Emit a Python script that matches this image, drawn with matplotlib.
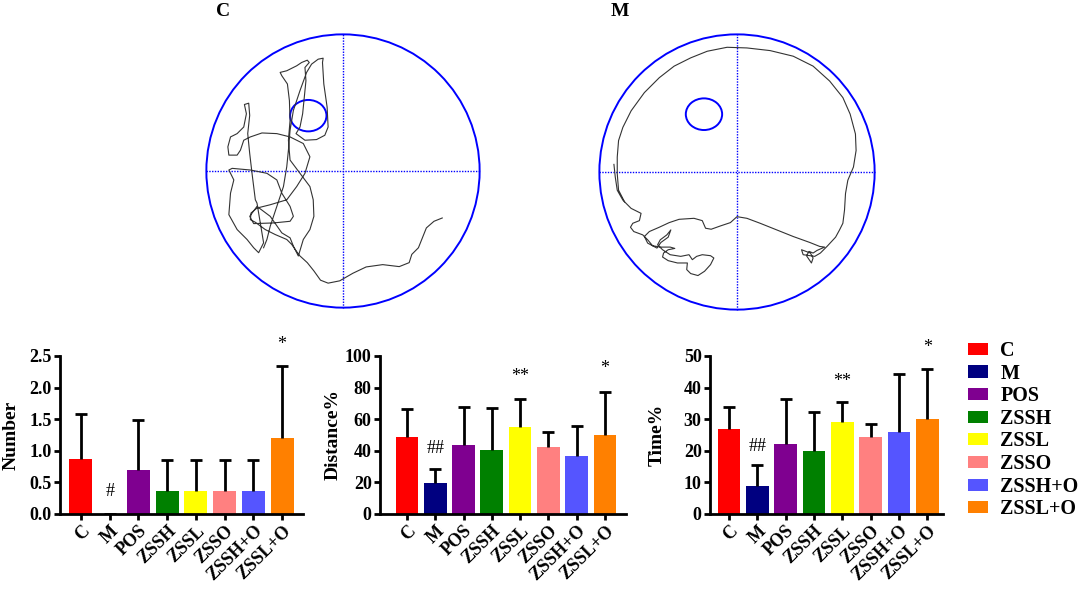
import numpy as np
import matplotlib
matplotlib.use("Agg")
import matplotlib.pyplot as plt
from matplotlib.patches import Circle, Ellipse, Patch

plt.rcParams['font.family'] = ['Liberation Serif', 'DejaVu Serif']

# ---------------- data ----------------
groups = ["C", "M", "POS", "ZSSH", "ZSSL", "ZSSO", "ZSSH+O", "ZSSL+O"]
colors = ["#FF0000", "#000080", "#7F0090", "#008000", "#FFFF00", "#FF8080", "#5555FF", "#FF8000"]

number_mean = [0.87, 0.0, 0.70, 0.37, 0.37, 0.37, 0.37, 1.20]
number_top = [1.59, 0.0, 1.49, 0.85, 0.85, 0.85, 0.85, 2.34]
number_marks = [("#", 1, 0.35), ("*", 7, 2.68)]

distance_mean = [48.5, 19.5, 43.5, 40.5, 55.0, 42.5, 37.0, 50.0]
distance_top = [66.5, 28.5, 68.0, 67.0, 72.5, 52.0, 55.5, 77.0]
distance_marks = [("##", 1, 41.5), ("**", 4, 87.0), ("*", 7, 92.0)]

time_mean = [27.0, 9.0, 22.0, 20.0, 29.0, 24.5, 26.0, 30.0]
time_top = [34.0, 15.5, 36.5, 32.3, 35.5, 28.5, 44.2, 46.0]
time_marks = [("##", 1, 21.5), ("**", 4, 42.0), ("*", 7, 52.8)]

# swim traces (image coordinates of the original track drawings)
trace_c_x = [760,735,712,700,688,668,660,630,580,530,490,450,415,392,372,352,328,305,290,255,225,195,180,182,200,240,290,320,345,360,340,300,260,215,180,160,150,140,115,112,120,140,160,168,162,175,178,172,178,185,195,200,205,215,220,205,190,170,140,115,120,130,115,125,180,230,260,275,300,310,300,250,190,178,200,240,275,300,310,325,340,360,372,370,360,330,300,295,300,298,292,275,270,290,320,335,352,358,345,348,342,338,330,318,345,380,405,415,412,402,398,400,385,365,350,330,310,300,295,290,280,260,240,230,220]
trace_c_y = [655,665,685,715,745,765,790,802,796,803,822,845,852,843,815,790,768,735,720,705,690,668,660,640,625,615,600,560,520,470,430,410,400,398,410,420,450,465,465,440,410,400,380,340,312,308,345,400,460,520,600,610,640,700,730,760,745,720,690,645,580,540,510,505,510,520,540,580,620,650,665,670,672,650,620,650,700,715,740,770,720,690,650,600,560,520,480,420,360,300,250,225,215,210,195,185,178,185,200,240,300,340,380,400,420,418,405,380,320,250,185,172,175,190,215,270,330,390,450,500,560,620,680,720,745]

trace_m_x = [98,102,108,125,150,180,175,155,148,158,185,200,215,240,268,282,262,248,245,262,290,320,318,330,352,372,390,400,390,365,348,335,325,300,268,245,230,238,258,270,262,240,228,200,190,205,235,265,295,340,365,375,392,420,450,470,500,540,590,640,690,720,735,712,700,688,680,695,700,692,665,670,705,722,742,768,780,790,795,798,805,822,830,828,812,790,750,700,640,570,500,440,380,330,280,235,190,150,125,112,108,108,112,130]
trace_m_y = [492,530,570,600,625,640,662,670,682,695,705,720,738,742,742,746,750,760,772,783,790,790,810,822,828,815,795,775,768,765,770,780,765,770,765,750,735,720,705,690,712,728,745,730,710,695,682,668,658,655,662,685,688,678,668,650,655,670,690,710,728,740,742,752,760,755,768,790,775,760,750,765,770,760,740,712,690,670,630,580,540,500,450,400,340,290,240,195,165,148,140,138,150,170,195,230,275,330,380,420,470,520,570,605]

# ---------------- figure ----------------
fig = plt.figure(figsize=(10.79, 5.94), dpi=100)

def maze(rect, tx, ty, cx, cy, r, plat):
    ax = fig.add_axes(rect)
    ax.set_xlim(-1.01, 1.01)
    ax.set_ylim(-1.01, 1.01)
    ax.set_aspect('equal')
    ax.axis('off')
    ax.add_patch(Circle((0, 0), 1.0, fill=False, ec="#0000FF", lw=1.4))
    ax.plot([-1, 1], [0, 0], ls=(0, (1, 1)), color="#0000FF", lw=1.0)
    ax.plot([0, 0], [-1, 1], ls=(0, (1, 1)), color="#0000FF", lw=1.0)
    ax.add_patch(Ellipse(plat[:2], plat[2], plat[3], fill=False, ec="#0000FF", lw=1.4))
    xs = (np.array(tx) - cx) / r
    ys = (cy - np.array(ty)) / r
    ax.plot(xs, ys, color="#333333", lw=0.8)
    return ax

maze([205/1079, 1 - 309/594, 276/1079, 276/594], trace_c_x, trace_c_y,
     460, 513, 413, (-0.254, 0.405, 0.266, 0.23))
maze([598/1079, 1 - 311/594, 278/1079, 278/594], trace_m_x, trace_m_y,
     470, 515, 416, (-0.24, 0.42, 0.264, 0.23))
fig.text(223/1079, 1 - 11/594, "C", fontsize=14, fontweight='bold', ha='center', va='center')
fig.text(620/1079, 1 - 11/594, "M", fontsize=14, fontweight='bold', ha='center', va='center')

def bars(rect, means, tops, ymax, step, ylabel, fmt, xlim, marks, labelx):
    ax = fig.add_axes(rect)
    x = np.arange(len(groups))
    up = [t - m for t, m in zip(tops, means)]
    ax.bar(x, means, width=0.8, color=colors, zorder=2)
    eb = ax.errorbar(x, means, yerr=[np.zeros(len(x)), up], fmt='none', ecolor='black',
                     elinewidth=2.0, capsize=4.0, capthick=2.0, zorder=3)
    caps = eb[1]
    if len(caps) == 2:
        caps[0].set_visible(False)   # no cap at the bar top (lower error is zero)
    ax.set_ylim(0, ymax)
    ax.set_xlim(*xlim)
    ax.set_yticks(np.arange(0, ymax + step / 2, step))
    ax.yaxis.set_major_formatter(matplotlib.ticker.FormatStrFormatter(fmt))
    ax.set_xticks(x)
    ax.set_xticklabels(groups, rotation=45, ha='right', rotation_mode='anchor')
    for s in ['top', 'right']:
        ax.spines[s].set_visible(False)
    for s in ['left', 'bottom']:
        ax.spines[s].set_linewidth(2.0)
        ax.spines[s].set_zorder(4)
    ax.tick_params(axis='both', direction='out', length=4, width=2.0, labelsize=13, pad=2)
    for lab in ax.get_xticklabels() + ax.get_yticklabels():
        lab.set_fontweight('bold')
    ax.set_ylabel(ylabel, fontsize=14, fontweight='bold')
    ax.yaxis.set_label_coords(labelx, 0.5)
    for txt, i, yv in marks:
        ax.text(i, yv, txt, ha='center', va='center', fontsize=13, clip_on=False)
    return ax

bars([60/1079, 80/594, 243/1079, 158/594], number_mean, number_top, 2.5, 0.5,
     "Number", "%.1f", (-0.73, 7.73), number_marks, -0.165)
bars([380/1079, 80/594, 246/1079, 158/594], distance_mean, distance_top, 100, 20,
     "Distance%", "%d", (-0.95, 7.74), distance_marks, -0.154)
bars([710/1079, 80/594, 233/1079, 158/594], time_mean, time_top, 50, 10,
     "Time%", "%d", (-0.67, 7.55), time_marks, -0.189)

handles = [Patch(facecolor=c, edgecolor='none') for c in colors]
fig.legend(handles, groups, loc='upper left', bbox_to_anchor=(968/1079, 1 - 341/594),
           frameon=False, borderpad=0, borderaxespad=0, handlelength=1.0, handleheight=0.55,
           handletextpad=0.6, labelspacing=0.13,
           prop={'family': 'Liberation Serif', 'weight': 'bold', 'size': 14.5})

fig.savefig("out.png", dpi=100)
